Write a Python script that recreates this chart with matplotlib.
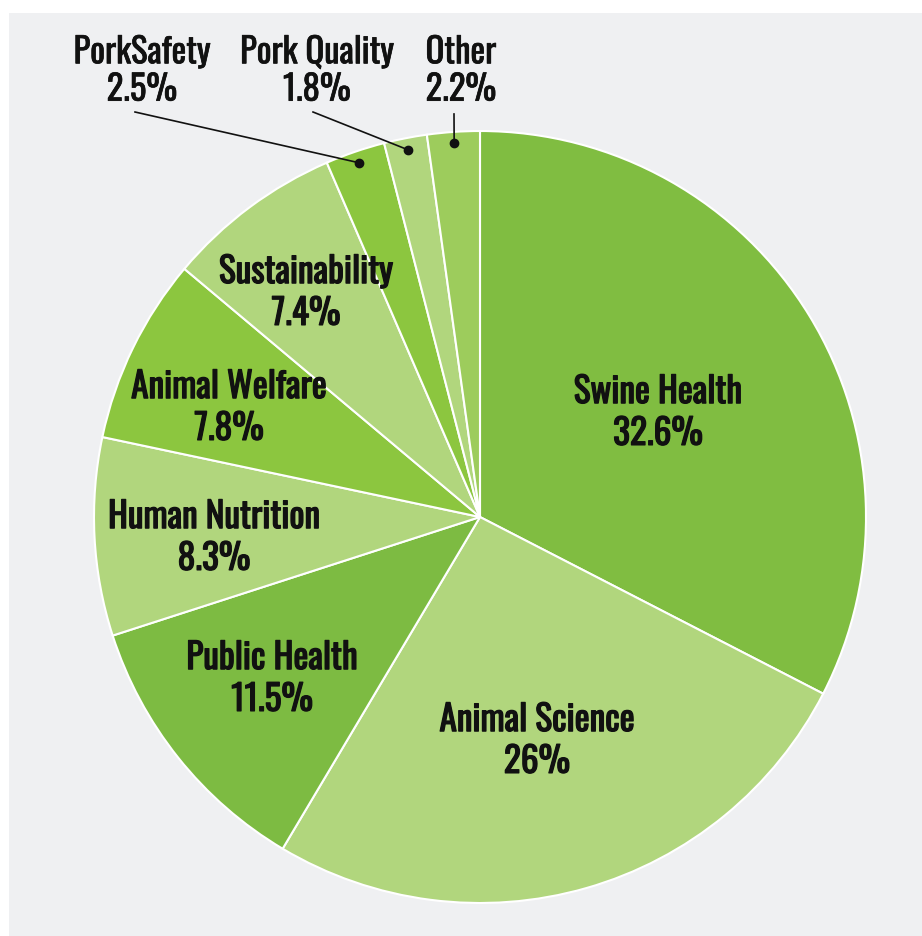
import numpy as np
import matplotlib.pyplot as plt
import matplotlib.patheffects as pe
from matplotlib.patches import Rectangle

# data (clockwise from 12 o'clock)
labels = ["Swine Health", "Animal Science", "Public Health", "Human Nutrition",
          "Animal Welfare", "Sustainability", "PorkSafety", "Pork Quality", "Other"]
values = [32.6, 26, 11.5, 8.3, 7.8, 7.4, 2.5, 1.8, 2.2]
pct_text = ["32.6%", "26%", "11.5%", "8.3%", "7.8%", "7.4%", "2.5%", "1.8%", "2.2%"]

colors = ["#80bd41", "#b1d67d", "#7dbb42", "#b1d67d", "#8cc63f",
          "#b1d67d", "#8cc63f", "#b1d67d", "#9dcc5c"]

# label centres in pixel coords (top-left origin)
label_pos = [(658, 414), (537, 742), (272, 680), (214, 539), (229, 409),
             (306, 294), (142, 72), (317, 72), (461, 72)]
# start point of leader line for the small outside slices
leader_start = {6: (135, 113), 7: (313, 113), 8: (454, 115)}

W, H = 922, 937
cx, cy, R = 480, 518, 386

fig = plt.figure(figsize=(W / 100, H / 100), dpi=100, facecolor="white")
ax = fig.add_axes([0, 0, 1, 1])
ax.add_patch(Rectangle((9, 0), W - 9, H - 14, facecolor="#eff0f2", edgecolor="none", zorder=0))

wedges, _ = ax.pie(values, colors=colors, startangle=90, counterclock=False,
                   center=(cx, H - cy), radius=R,
                   wedgeprops=dict(edgecolor="white", linewidth=1.5))
for w in wedges:
    w.set_zorder(1)

font = ["Oswald", "DejaVu Sans"]
for i, (lab, pt) in enumerate(zip(labels, pct_text)):
    x, y = label_pos[i]
    outside = i in leader_start
    t = ax.text(x, H - y, f"{lab}\n{pt}", ha="center", va="center",
                fontsize=25 if outside else 25.5, fontweight=500 if outside else 700,
                family=font, linespacing=1.12 if outside else 1.2,
                color="#111111", zorder=3)
    # fake a heavier weight (only one Oswald weight available)
    t.set_path_effects([pe.withStroke(linewidth=0.5 if outside else 0.9, foreground="#111111")])
    if outside:
        w = wedges[i]
        mid = np.deg2rad((w.theta1 + w.theta2) / 2)
        dx = cx + 0.97 * R * np.cos(mid)
        dy = (H - cy) + 0.97 * R * np.sin(mid)
        sx, sy = leader_start[i]
        ax.plot([sx, dx], [H - sy, dy], color="#111111", lw=1.2, zorder=3)
        ax.plot(dx, dy, "o", color="#111111", ms=6, zorder=3)

ax.set_xlim(0, W)
ax.set_ylim(0, H)
ax.set_aspect("equal")
ax.axis("off")

fig.savefig("out.png", dpi=100, facecolor="white")
